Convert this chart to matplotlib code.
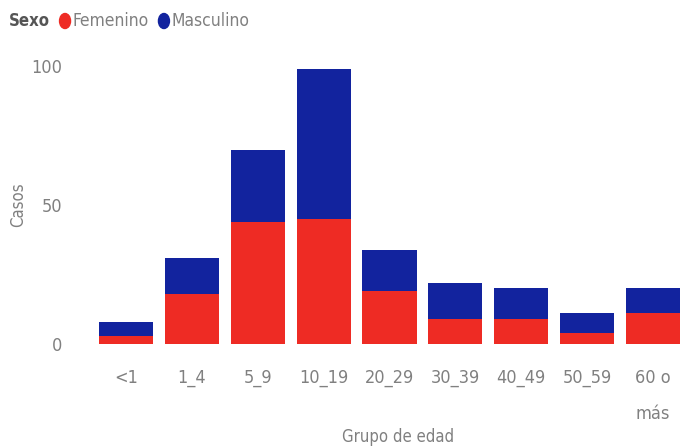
import numpy as np
import matplotlib.pyplot as plt
from matplotlib.patches import Ellipse

grupos = ['<1', '1_4', '5_9', '10_19', '20_29', '30_39', '40_49', '50_59', '60 o\nmás']
femenino = [3, 18, 44, 45, 19, 9, 9, 4, 11]
masculino = [5, 13, 26, 54, 15, 13, 11, 7, 9]

rojo = '#EE2B24'
azul = '#12239E'
gris = '#808080'
estilo = dict(fontfamily='DejaVu Sans', fontstretch='condensed')

fig = plt.figure(figsize=(6.86, 4.47), dpi=100)
ax = fig.add_axes([0.1356, 0.2304, 0.8644, 0.6465])

x = np.arange(len(grupos))
ax.bar(x, femenino, width=0.82, color=rojo)
ax.bar(x, masculino, width=0.82, bottom=femenino, color=azul)

ax.set_xlim(-0.5, len(grupos) - 0.5)
ax.set_ylim(0, 104)
ax.set_yticks([0, 50, 100])
ax.set_xticks(x)
ax.set_xticklabels(grupos, linespacing=2.25)
for s in ax.spines.values():
    s.set_visible(False)
ax.tick_params(length=0, colors=gris, labelsize=13)
ax.tick_params(axis='y', pad=22)
ax.tick_params(axis='x', pad=18)
for t in ax.get_xticklabels() + ax.get_yticklabels():
    t.set_fontstretch('condensed')

fig.text(0.58, 0.022, 'Grupo de edad', ha='center', va='center',
         fontsize=12, color=gris, **estilo)
fig.text(0.026, 0.543, 'Casos', ha='center', va='center', rotation=90,
         fontsize=12, color=gris, **estilo)

# leyenda
fig.text(0.013, 0.953, 'Sexo', ha='left', va='center', fontsize=12,
         color='#555555', fontweight='bold', **estilo)
fig.patches.append(Ellipse((0.0948, 0.953), 11 / 686, 15 / 447,
                           transform=fig.transFigure, color=rojo, figure=fig))
fig.text(0.105, 0.953, 'Femenino', ha='left', va='center', fontsize=12.5,
         color=gris, **estilo)
fig.patches.append(Ellipse((0.239, 0.953), 11 / 686, 15 / 447,
                           transform=fig.transFigure, color=azul, figure=fig))
fig.text(0.25, 0.953, 'Masculino', ha='left', va='center', fontsize=12.5,
         color=gris, **estilo)

plt.savefig('out.png', dpi=100)
